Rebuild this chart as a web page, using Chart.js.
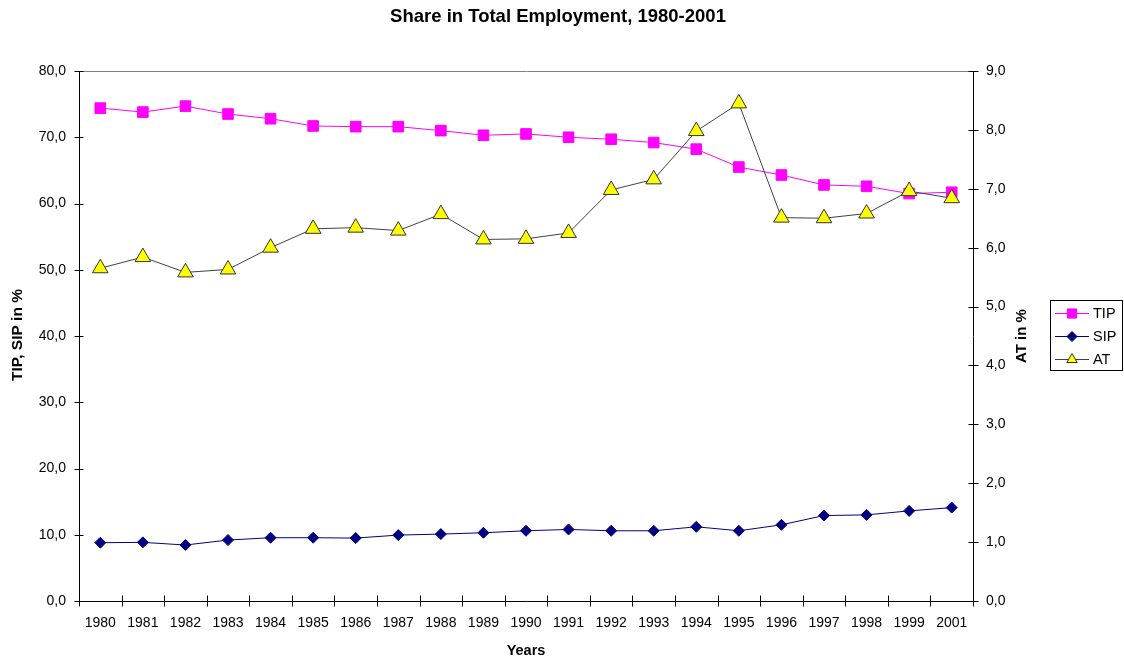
<!DOCTYPE html>
<html>
<head>
<meta charset="utf-8">
<title>Share in Total Employment, 1980-2001</title>
<script src="https://cdn.jsdelivr.net/npm/chart.js@4/dist/chart.umd.min.js"></script>
<style>
    html, body { margin: 0; padding: 0; background: #fff; }
    #wrap { width: 1124px; height: 659px; }
</style>
</head>
<body>
<div id="wrap"><canvas id="employment_chart" width="1124" height="659"></canvas></div>
<script>
const years = ['1980', '1981', '1982', '1983', '1984', '1985', '1986', '1987', '1988', '1989', '1990',
    '1991', '1992', '1993', '1994', '1995', '1996', '1997', '1998', '1999', '2001']

// TIP and SIP are read against the left axis, AT against the right one
const tip_share = [74.4, 73.8, 74.7, 73.5, 72.8, 71.7, 71.6, 71.6, 71.0, 70.3, 70.5,
    70.0, 69.7, 69.2, 68.2, 65.5, 64.3, 62.8, 62.6, 61.5, 61.7]
const sip_share = [8.8, 8.85, 8.45, 9.2, 9.55, 9.55, 9.5, 9.95, 10.1, 10.3, 10.6,
    10.8, 10.6, 10.6, 11.2, 10.6, 11.5, 12.9, 13.0, 13.6, 14.1]
const at_share = [5.65, 5.84, 5.58, 5.63, 6.0, 6.32, 6.34, 6.29, 6.57, 6.14, 6.15,
    6.25, 6.98, 7.16, 7.98, 8.45, 6.51, 6.5, 6.58, 6.96, 6.84]

const chart_title = 'Share in Total Employment, 1980-2001'
const left_axis_title = 'TIP, SIP in %'
const right_axis_title = 'AT in %'
const x_axis_title = 'Years'

const FONT = '"Liberation Sans", Arial, sans-serif'

const series_styles = [
    { label: 'TIP', line: '#ff00ff', fill: '#ff00ff', border: '#ff00ff', style: 'rect', radius: 7.5, legend_radius: 6.5 },
    { label: 'SIP', line: '#000080', fill: '#000080', border: '#000080', style: 'rectRot', radius: 5.5, legend_radius: 5 },
    { label: 'AT', line: '#404040', fill: '#ffff00', border: '#333333', style: 'triangle', radius: 9, legend_radius: 6 }
]

function comma_format(value, digits) {
    return Number(value).toFixed(digits).replace('.', ',')
}

// Axis lines, crossing tick marks, titles and the boxed legend
const frame_plugin = {
    id: 'frame',
    beforeDatasetsDraw(chart) {
        const ctx = chart.ctx
        const area = chart.chartArea
        const x_scale = chart.scales.x
        const y_left = chart.scales.y
        const y_right = chart.scales.y_at
        const left = Math.round(area.left) + 0.5
        const right = Math.round(area.right) + 0.5
        const top = Math.round(area.top) + 0.5
        const bottom = Math.round(area.bottom) + 0.5

        ctx.save()
        ctx.lineWidth = 1

        ctx.strokeStyle = '#808080'
        ctx.beginPath()
        ctx.moveTo(left, top)
        ctx.lineTo(right, top)
        ctx.stroke()

        ctx.strokeStyle = '#000000'
        ctx.beginPath()
        ctx.moveTo(left, top)
        ctx.lineTo(left, bottom)
        ctx.lineTo(right, bottom)
        ctx.moveTo(right, top)
        ctx.lineTo(right, bottom)

        y_left.ticks.forEach((tick) => {
            const y = Math.round(y_left.getPixelForValue(tick.value)) + 0.5
            ctx.moveTo(left - 5, y)
            ctx.lineTo(left + 4, y)
        })
        y_right.ticks.forEach((tick) => {
            const y = Math.round(y_right.getPixelForValue(tick.value)) + 0.5
            ctx.moveTo(right - 5, y)
            ctx.lineTo(right + 5, y)
        })
        const half_step = (x_scale.getPixelForValue(1) - x_scale.getPixelForValue(0)) / 2
        for (let i = 0; i <= years.length; i++) {
            const x = Math.round(x_scale.getPixelForValue(i) - half_step) + 0.5
            ctx.moveTo(x, bottom - 6)
            ctx.lineTo(x, bottom + 5)
        }
        ctx.stroke()
        ctx.restore()
    },
    afterDraw(chart) {
        const ctx = chart.ctx
        const area = chart.chartArea
        ctx.save()
        ctx.fillStyle = '#000000'
        ctx.textAlign = 'center'
        ctx.textBaseline = 'middle'

        ctx.font = 'bold 18.5px ' + FONT
        ctx.fillText(chart_title, 558, 17)

        ctx.font = 'bold 14.5px ' + FONT
        ctx.fillText(x_axis_title, (area.left + area.right) / 2, 651)

        ctx.font = 'bold 15.5px ' + FONT
        ctx.save()
        ctx.translate(18, 335)
        ctx.rotate(-Math.PI / 2)
        ctx.fillText(left_axis_title, 0, 0)
        ctx.restore()

        ctx.font = 'bold 15px ' + FONT
        ctx.save()
        ctx.translate(1022, 336)
        ctx.rotate(-Math.PI / 2)
        ctx.fillText(right_axis_title, 0, 0)
        ctx.restore()

        // legend
        ctx.strokeStyle = '#000000'
        ctx.lineWidth = 1
        ctx.strokeRect(1050.5, 300.5, 72, 70)
        const rows = [313, 336, 359]
        ctx.font = '14.5px ' + FONT
        ctx.textAlign = 'left'
        series_styles.forEach((s, i) => {
            const y = rows[i] + 0.5
            ctx.strokeStyle = s.line
            ctx.beginPath()
            ctx.moveTo(1055, y)
            ctx.lineTo(1089, y)
            ctx.stroke()
            ctx.fillStyle = s.fill
            ctx.strokeStyle = s.border
            Chart.helpers.drawPoint(ctx, { pointStyle: s.style, radius: s.legend_radius, borderWidth: 1, rotation: 0 }, 1072, y)
            ctx.fillStyle = '#000000'
            ctx.fillText(s.label, 1093, rows[i] + 1)
        })
        ctx.restore()
    }
}

function make_dataset(style, values, axis, order) {
    return {
        label: style.label,
        data: values,
        yAxisID: axis,
        order: order,
        borderColor: style.line,
        borderWidth: 1,
        pointStyle: style.style,
        pointRadius: style.radius,
        pointHoverRadius: style.radius,
        pointBackgroundColor: style.fill,
        pointBorderColor: style.border,
        pointBorderWidth: 1,
        tension: 0,
        fill: false
    }
}

const tick_font = { family: FONT, size: 14 }

new Chart(document.getElementById('employment_chart').getContext('2d'), {
    type: 'line',
    data: {
        labels: years,
        datasets: [
            make_dataset(series_styles[0], tip_share, 'y', 1),
            make_dataset(series_styles[1], sip_share, 'y', 2),
            make_dataset(series_styles[2], at_share, 'y_at', 0)
        ]
    },
    plugins: [frame_plugin],
    options: {
        responsive: false,
        animation: false,
        events: [],
        layout: {
            autoPadding: false,
            padding: { top: 71, left: 0, right: 71, bottom: 0 }
        },
        plugins: {
            legend: { display: false },
            title: { display: false },
            tooltip: { enabled: false }
        },
        scales: {
            x: {
                offset: true,
                border: { display: false },
                grid: { display: false, drawTicks: false },
                ticks: { color: '#000', font: tick_font, padding: 14, maxRotation: 0, autoSkip: false },
                afterFit(scale) { scale.height = 58 }
            },
            y: {
                position: 'left',
                min: 0,
                max: 80,
                border: { display: false },
                grid: { display: false, drawTicks: false },
                ticks: { stepSize: 10, color: '#000', font: tick_font, padding: 13, callback: (v) => comma_format(v, 1) },
                afterFit(scale) { scale.width = 79 }
            },
            y_at: {
                position: 'right',
                min: 0,
                max: 9,
                border: { display: false },
                grid: { display: false, drawTicks: false },
                ticks: { stepSize: 1, color: '#000', font: tick_font, padding: 13, callback: (v) => comma_format(v, 1) },
                afterFit(scale) { scale.width = 80 }
            }
        }
    }
})
</script>
</body>
</html>
